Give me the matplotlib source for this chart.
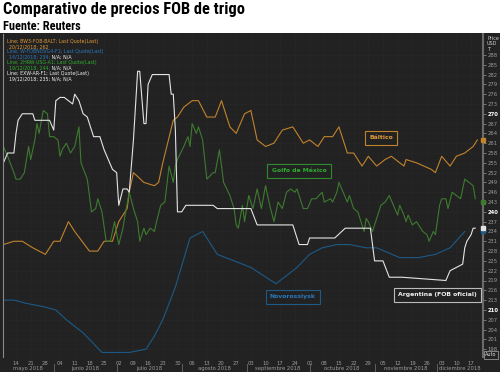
import datetime as dt
import matplotlib
matplotlib.use("Agg")
import matplotlib.pyplot as plt
from matplotlib import font_manager
from matplotlib.patches import Rectangle

# --- data ---
baltico_dates = ["2018-05-08", "2018-05-13", "2018-05-17", "2018-05-22", "2018-05-28", "2018-06-01",
                 "2018-06-04", "2018-06-08", "2018-06-11", "2018-06-18", "2018-06-22", "2018-06-25",
                 "2018-06-29", "2018-07-02", "2018-07-06", "2018-07-07", "2018-07-09", "2018-07-14",
                 "2018-07-19", "2018-07-21", "2018-07-23", "2018-07-28", "2018-07-30", "2018-08-02",
                 "2018-08-06", "2018-08-09", "2018-08-13", "2018-08-17", "2018-08-20", "2018-08-24",
                 "2018-08-27", "2018-08-31", "2018-09-03", "2018-09-06", "2018-09-10", "2018-09-14",
                 "2018-09-18", "2018-09-23", "2018-09-28", "2018-10-01", "2018-10-05", "2018-10-08",
                 "2018-10-12", "2018-10-15", "2018-10-19", "2018-10-22", "2018-10-26", "2018-10-29",
                 "2018-11-02", "2018-11-06", "2018-11-09", "2018-11-15", "2018-11-16", "2018-11-21",
                 "2018-11-28", "2018-11-30", "2018-12-03", "2018-12-07", "2018-12-10", "2018-12-14",
                 "2018-12-18", "2018-12-20"]
baltico = [230, 231, 231, 229, 227, 231, 231, 237, 234, 228, 228, 231, 231, 237, 241, 246, 252, 249,
           248, 249, 255, 268, 269, 272, 274, 274, 269, 269, 274, 266, 264, 270, 271, 262, 260, 261,
           265, 266, 261, 262, 260, 263, 263, 266, 258, 258, 254, 257, 254, 256, 257, 254, 256, 255,
           253, 252, 257, 254, 257, 258, 260, 262]

novo_dates = ["2018-05-08", "2018-05-13", "2018-05-19", "2018-05-27", "2018-06-02", "2018-06-07",
              "2018-06-15", "2018-06-24", "2018-07-01", "2018-07-07", "2018-07-15", "2018-07-19",
              "2018-07-23", "2018-07-29", "2018-08-05", "2018-08-11", "2018-08-18", "2018-09-03",
              "2018-09-15", "2018-09-25", "2018-10-01", "2018-10-07", "2018-10-14", "2018-10-20",
              "2018-10-28", "2018-11-02", "2018-11-13", "2018-11-22", "2018-11-30", "2018-12-07",
              "2018-12-14"]
novo = [213, 213, 212, 211, 210, 207, 203, 197, 197, 197, 198, 202, 207, 217, 232, 234, 227, 223,
        218, 223, 227, 229, 230, 230, 229, 229, 226, 226, 227, 229, 234]

golfo_dates = ["2018-05-08", "2018-05-10", "2018-05-13", "2018-05-14", "2018-05-16", "2018-05-18",
               "2018-05-20", "2018-05-21", "2018-05-23", "2018-05-24", "2018-05-25", "2018-05-27",
               "2018-05-29", "2018-05-30", "2018-06-01", "2018-06-03", "2018-06-04", "2018-06-05",
               "2018-06-07", "2018-06-09", "2018-06-11", "2018-06-13", "2018-06-14", "2018-06-17",
               "2018-06-19", "2018-06-21", "2018-06-22", "2018-06-24", "2018-06-26", "2018-06-28",
               "2018-06-30", "2018-07-02", "2018-07-04", "2018-07-05", "2018-07-07", "2018-07-09",
               "2018-07-11", "2018-07-12", "2018-07-14", "2018-07-15", "2018-07-17", "2018-07-19",
               "2018-07-20", "2018-07-22", "2018-07-24", "2018-07-26", "2018-07-28", "2018-07-29",
               "2018-07-30", "2018-08-02", "2018-08-04", "2018-08-05", "2018-08-06", "2018-08-08",
               "2018-08-09", "2018-08-11", "2018-08-13", "2018-08-16", "2018-08-17", "2018-08-19",
               "2018-08-21", "2018-08-24", "2018-08-26", "2018-08-27", "2018-08-28", "2018-08-30",
               "2018-08-31", "2018-09-02", "2018-09-04", "2018-09-06", "2018-09-08", "2018-09-10",
               "2018-09-12", "2018-09-14", "2018-09-16", "2018-09-18", "2018-09-20", "2018-09-22",
               "2018-09-24", "2018-09-25", "2018-09-26", "2018-09-28", "2018-09-30", "2018-10-02",
               "2018-10-04", "2018-10-07", "2018-10-08", "2018-10-11", "2018-10-12", "2018-10-14",
               "2018-10-15", "2018-10-17", "2018-10-19", "2018-10-20", "2018-10-22", "2018-10-24",
               "2018-10-26", "2018-10-27", "2018-10-28", "2018-10-29", "2018-10-31", "2018-11-02",
               "2018-11-04", "2018-11-06", "2018-11-08", "2018-11-10", "2018-11-12", "2018-11-13",
               "2018-11-15", "2018-11-16", "2018-11-17", "2018-11-19", "2018-11-21", "2018-11-24",
               "2018-11-26", "2018-11-27", "2018-11-29", "2018-11-30", "2018-12-02", "2018-12-03",
               "2018-12-05", "2018-12-06", "2018-12-08", "2018-12-10", "2018-12-12", "2018-12-14",
               "2018-12-16", "2018-12-18", "2018-12-19"]
golfo = [260, 257, 252, 250, 250, 252, 260, 256, 262, 267, 264, 271, 270, 263, 263, 262, 257, 259,
         261, 258, 260, 266, 255, 250, 240, 241, 244, 240, 231, 231, 237, 230, 235, 239, 246, 241,
         237, 231, 235, 233, 235, 234, 237, 242, 243, 254, 249, 254, 256, 260, 263, 260, 267, 264,
         266, 262, 250, 252, 252, 259, 249, 245, 241, 236, 235, 242, 237, 245, 241, 247, 241, 248,
         242, 237, 243, 241, 246, 247, 246, 247, 245, 241, 241, 244, 244, 246, 243, 244, 243, 246,
         249, 246, 243, 245, 241, 240, 236, 234, 238, 237, 234, 238, 242, 243, 245, 242, 239, 242,
         239, 237, 239, 236, 237, 234, 233, 231, 234, 233, 242, 244, 244, 241, 246, 245, 244, 250,
         249, 248, 244]

arg_dates = ["2018-05-08", "2018-05-10", "2018-05-13", "2018-05-14", "2018-05-15", "2018-05-17",
             "2018-05-22", "2018-05-23", "2018-05-30", "2018-06-01", "2018-06-02", "2018-06-04",
             "2018-06-06", "2018-06-10", "2018-06-11", "2018-06-13", "2018-06-15", "2018-06-17",
             "2018-06-20", "2018-06-23", "2018-06-25", "2018-06-29", "2018-07-01", "2018-07-02",
             "2018-07-04", "2018-07-06", "2018-07-07", "2018-07-09", "2018-07-11", "2018-07-12",
             "2018-07-14", "2018-07-15", "2018-07-16", "2018-07-18", "2018-07-26", "2018-07-27",
             "2018-07-28", "2018-07-29", "2018-07-30", "2018-08-01", "2018-08-03", "2018-08-16",
             "2018-08-18", "2018-09-03", "2018-09-06", "2018-09-23", "2018-09-26", "2018-09-30",
             "2018-10-01", "2018-10-13", "2018-10-18", "2018-10-30", "2018-11-01", "2018-11-05",
             "2018-11-08", "2018-11-14", "2018-12-05", "2018-12-07", "2018-12-10", "2018-12-13",
             "2018-12-14", "2018-12-15", "2018-12-17", "2018-12-18", "2018-12-19"]
argentina = [255, 258, 258, 264, 268, 270, 270, 268, 268, 265, 274, 275, 275, 273, 276, 274, 270,
             269, 263, 263, 259, 253, 252, 242, 247, 247, 246, 262, 283, 283, 267, 267, 279, 282,
             282, 276, 276, 265, 240, 240, 242, 242, 241, 241, 236, 236, 230, 230, 232, 232, 235,
             235, 225, 225, 220, 220, 219, 222, 223, 224, 229, 231, 233, 235, 235]

legend_lines = [
    ("Line; BW3-FOB-BALT; Last Quote(Last)", "20/12/2018; 262", ""),
    ("Line; W-FOBNOVG4-F1; Last Quote(Last)", "14/12/2018; 234;", " N/A; N/A"),
    ("Line; 2HRW-USG-A1; Last Quote(Last)", "19/12/2018; 244;", " N/A; N/A"),
    ("Line; EXW-AR-F1; Last Quote(Last)", "19/12/2018; 235;", " N/A; N/A"),
]
labels = ["Báltico", "Novorossiysk", "Golfo de México", "Argentina (FOB oficial)"]
last_values = [262, 234, 243, 235]
yticks = list(range(198, 289, 3))
months = ["mayo 2018", "junio 2018", "julio 2018", "agosto 2018", "septiembre 2018",
          "octubre 2018", "noviembre 2018", "diciembre 2018"]

# --- styling ---
BG = "#222222"
line_colors = ["#c2832c", "#1d5a86", "#3e7a30", "#e4e4e4"]
text_colors = ["#e09a3a", "#2a78bd", "#2fae2f", "#f0f0f0"]


def to_dt(lst):
    return [dt.datetime.strptime(s, "%Y-%m-%d") for s in lst]


def pick_font(cands):
    for name in cands:
        try:
            font_manager.findfont(font_manager.FontProperties(family=name, weight="bold"),
                                  fallback_to_default=False)
            return name
        except ValueError:
            pass
    return "DejaVu Sans"


title_font = pick_font(["Roboto Condensed", "Liberation Sans Narrow", "Arial Narrow", "Roboto", "Lato"])

fig = plt.figure(figsize=(5.0, 3.72), dpi=100)
fig.patch.set_facecolor("white")
fig.patches.append(Rectangle((0, 0), 1, 1 - 33 / 372, transform=fig.transFigure,
                             facecolor=BG, edgecolor="none", zorder=-10))

title = fig.text(0.006, 0.995, "Comparativo de precios FOB de trigo", ha="left", va="top",
                 fontsize=12.5, fontweight="bold", family=title_font, color="black")
sub = fig.text(0.006, 0.945, "Fuente: Reuters", ha="left", va="top",
               fontsize=9.5, fontweight="bold", family=title_font, color="black")

# shrink the heading texts to the widths they have in the reference
fig.canvas.draw()
r = fig.canvas.get_renderer()
for t, target in [(title, 240), (sub, 78)]:
    w = t.get_window_extent(r).width
    if w > target:
        t.set_fontsize(t.get_fontsize() * target / w)

ax = fig.add_axes([3 / 500, 1 - 357 / 372, 480 / 500, 323 / 372])
ax.set_facecolor(BG)

series = [(baltico_dates, baltico), (novo_dates, novo), (golfo_dates, golfo), (arg_dates, argentina)]
for (d, v), c in zip(series, line_colors):
    ax.plot(to_dt(d), v, color=c, lw=0.8)

start = dt.datetime(2018, 5, 14)
x0 = start - dt.timedelta(days=6.2)
x1 = start + dt.timedelta(days=222.7)
ax.set_xlim(x0, x1)
ax.set_ylim(195.6, 294.4)

# right axis ticks
ax.yaxis.tick_right()
ax.set_yticks(yticks)
ax.set_yticklabels([str(t) for t in yticks])
ax.tick_params(axis="y", labelsize=3.8, colors="#9a9a9a", length=2, width=0.5, pad=1.5)
for lbl, t in zip(ax.get_yticklabels(), yticks):
    if t % 30 == 0:
        lbl.set_color("white")
        lbl.set_fontweight("bold")

# x ticks weekly
weeks = [start + dt.timedelta(days=7 * i) for i in range(32)]
ax.set_xticks(weeks)
ax.set_xticklabels([w.strftime("%d") for w in weeks])
ax.tick_params(axis="x", labelsize=3.8, colors="#9a9a9a", length=0, pad=3)

ax.grid(True, color="#272727", lw=0.5)
for s in ["top", "bottom"]:
    ax.spines[s].set_visible(False)
ax.spines["left"].set_color("#8a8a8a")
ax.spines["left"].set_linewidth(0.8)
ax.spines["right"].set_color("#6a6a6a")
ax.spines["right"].set_linewidth(1.5)

# month labels and separators
xt = ax.get_xaxis_transform()
month_starts = [dt.datetime(2018, m, 1) for m in range(5, 13)] + [dt.datetime(2019, 1, 1)]
for i, name in enumerate(months):
    a = max(month_starts[i], x0)
    b = min(month_starts[i + 1], x1)
    mid = a + (b - a) / 2
    ax.text(mid, -0.037, name, transform=xt, ha="center", va="center",
            fontsize=3.8, color="#9a9a9a", clip_on=False)
    if i > 0:
        ax.plot([month_starts[i]] * 2, [-0.022, -0.05], transform=xt, color="#6a6a6a",
                lw=0.6, clip_on=False)

# legend text block
for i, (l1, l2, l3) in enumerate(legend_lines):
    c = text_colors[i]
    y = 0.978 - i * 0.0335
    ax.text(0.009, y, l1, transform=ax.transAxes, fontsize=3.4, color=c, va="center")
    t = ax.text(0.013, y - 0.0168, l2, transform=ax.transAxes, fontsize=3.4, color=c, va="center")
    if l3:
        ax.annotate(l3, xycoords=t, xy=(1, 0.5), va="center", fontsize=3.4, color="#f0f0f0")

# series labels
label_pos = [("2018-11-04", 262.6), ("2018-09-23", 214.0), ("2018-09-26", 252.5),
             ("2018-12-01", 214.6)]
edge_colors = ["#c2832c", "#1d5a86", "#2e8a2e", "#bbbbbb"]
for (d, v), txt, c, ec in zip(label_pos, labels, text_colors, edge_colors):
    ax.text(dt.datetime.strptime(d, "%Y-%m-%d"), v, txt, ha="center", va="center",
            fontsize=4.4, fontweight="bold", color=c,
            bbox=dict(boxstyle="square,pad=0.7", facecolor=BG, edgecolor=ec, lw=0.8))

# last value markers on right axis
for v, c in zip(last_values, line_colors):
    ax.plot([x1], [v], marker="s", ms=2.2, color=c, clip_on=False, zorder=5)

fig.text(487 / 500, 1 - 36 / 372, "Price\nUSD\nT", ha="left", va="top", fontsize=3.5,
         color="#cfcfcf", linespacing=1.1)
fig.text(491 / 500, 1 - 355 / 372, "Auto", ha="center", va="center", fontsize=3.5,
         color="#dddddd", bbox=dict(boxstyle="square,pad=0.3", facecolor=BG, edgecolor="#aaaaaa", lw=0.5))

fig.savefig("out.png", dpi=100)
